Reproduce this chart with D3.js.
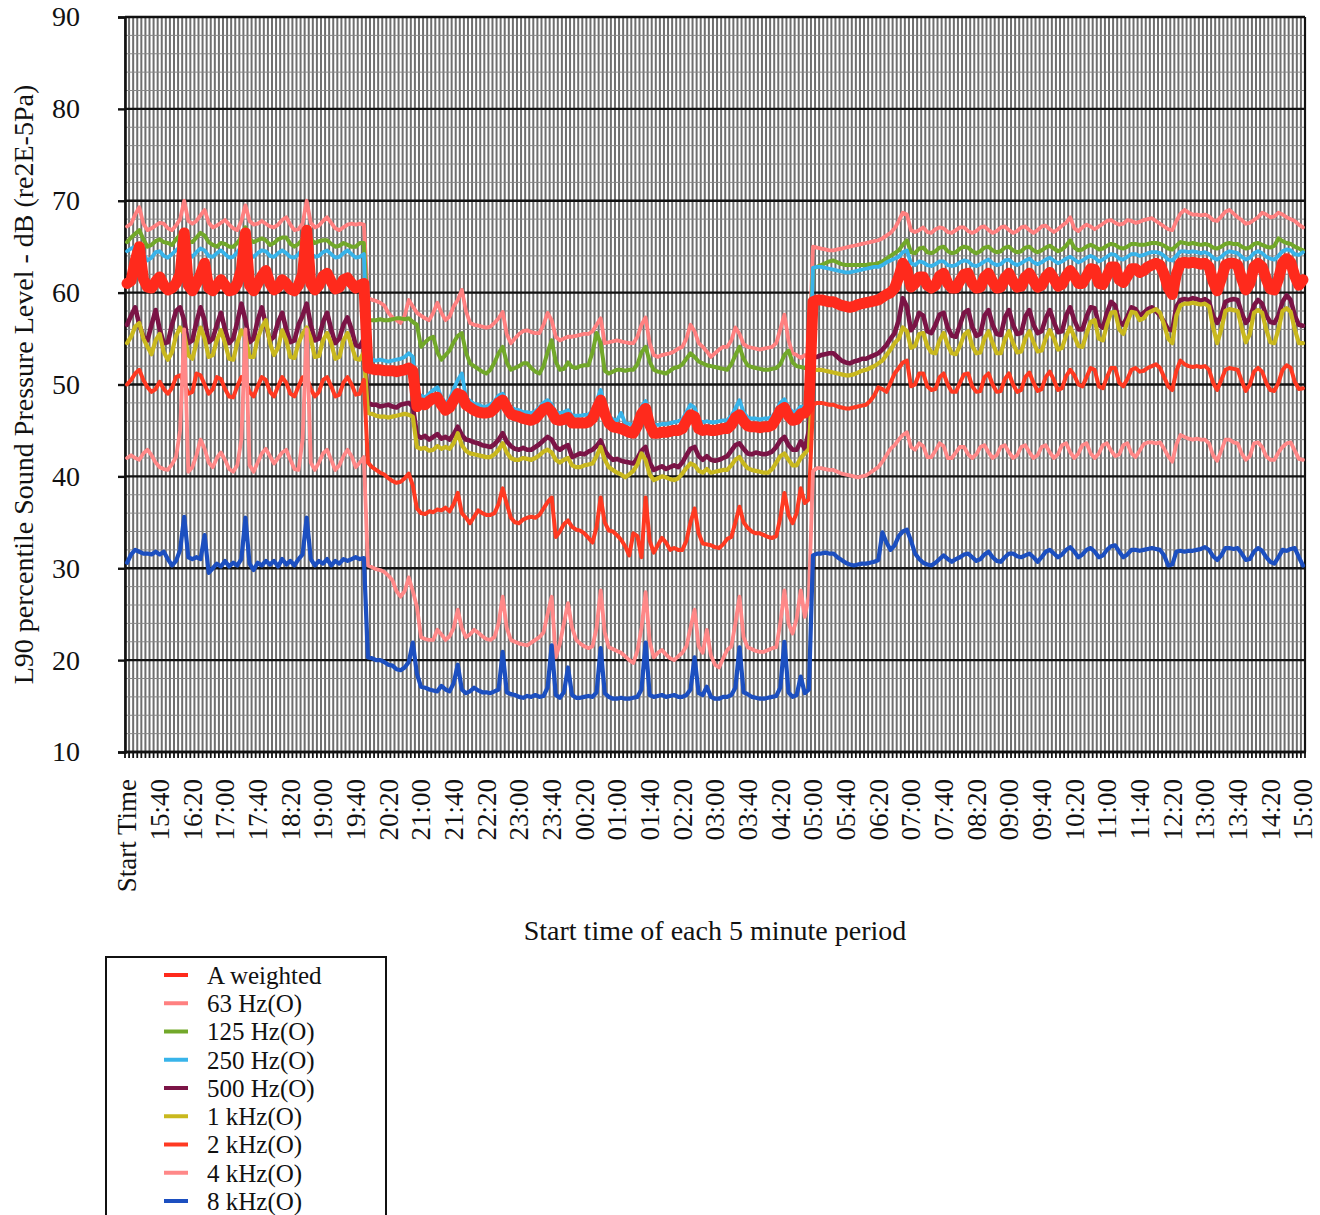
<!DOCTYPE html>
<html><head><meta charset="utf-8">
<script src="https://cdn.jsdelivr.net/npm/d3@7"></script>
<style>html,body{margin:0;padding:0;background:#fff;}svg{display:block;font-family:"Liberation Serif","Times New Roman",serif;}</style>
</head><body>
<svg id="chart" width="1320" height="1215"></svg>
<script>
const tickLabels = ["Start Time","15:40","16:20","17:00","17:40","18:20","19:00","19:40","20:20","21:00","21:40","22:20","23:00","23:40","00:20","01:00","01:40","02:20","03:00","03:40","04:20","05:00","05:40","06:20","07:00","07:40","08:20","09:00","09:40","10:20","11:00","11:40","12:20","13:00","13:40","14:20","15:00"];
const labelEvery = 8;
const yTicks = [10,20,30,40,50,60,70,80,90];
const seriesNames = ["A weighted","63 Hz(O)","125 Hz(O)","250 Hz(O)","500 Hz(O)","1 kHz(O)","2 kHz(O)","4 kHz(O)","8 kHz(O)"];

const aWeighted = [
61,61.3,63.5,65,61.5,60.6,60.5,61.2,61.7,60.8, 60.3,60.5,61,62,66.5,60.8,60.2,61,62,63.2,
60.5,60.2,60.8,61.4,60.8,60.2,60.3,61,62.5,66.5, 60.8,60.2,61,61.8,62.4,61,60.3,60.6,61.4,61,
60.4,60.2,60.8,62,66.8,61,60.3,60.8,61.8,62.1, 61.2,60.4,60.6,61.4,61.6,61,60.5,60.8,61,
51.8,51.7,51.6,51.6,51.5,51.5,51.5,51.4,51.5,51.6,51.8,51.5,
47.6,48,47.8,48.2,48.5,48.6,47.8,47.2,47.5,48.3, 49,48.8,47.8,47.5,47.2,47,46.9,46.9,47,47.4,
48,48.3,47.5,46.8,46.6,46.5,46.3,46.2,46.1,46.3, 46.8,47.3,47.5,47,46.2,46.1,46.2,46.4,45.8,45.8,
45.8,45.8,45.9,46.3,47.3,48.3,46.8,45.8,45.4,45.3, 45.2,45,44.8,44.7,45.5,46.8,47.4,45.6,44.7,44.7,
44.8,44.8,44.9,45,45,45.2,46,46.7,46.5,45.2, 45,45.1,45,45,45.1,45.2,45.2,45.6,46.4,46.7,
46,45.5,45.4,45.4,45.3,45.4,45.4,45.6,46.3,47.2, 47.5,46.6,46.1,46.2,46.8,46.9,47.5,
59,59.2,59.2,59.1,59,59,58.8,58.6,58.5,58.4, 58.5,58.7,58.8,58.9,59,59.1,59.2,59.5,59.8,60, 60.5,61.7,
63.2,62.5,60.6,61,61.7,61.7,60.8,60.5,60.8,61.8, 62.1,61,60.5,60.5,61.3,62,62.1,61,60.5,60.6,
61.7,62.1,61.2,60.5,60.6,61.6,62.1,61.2,60.6,60.7, 61.7,62.1,61.3,60.6,60.8,61.7,62.2,61.5,60.7,60.9,
61.8,62.4,61.8,61,61,61.8,62.6,62.5,61,60.9, 61.8,62.8,62.8,61.4,61.1,61.8,62.6,62.6,62.2,62.4,
62.8,63,63.2,63,62,60.5,59.8,62,63.2,63.3, 63.2,63.3,63.2,63.1,63.2,62.8,61.2,60.2,61.5,63,
63.2,63.2,63,61.5,60.3,61,62.8,63.2,62.8,61.5, 60.4,60.3,61.5,63.2,63.7,63.3,61.8,60.8,61.4];

const hz63 = [
67.2,67.5,68.5,69.3,67.5,66.8,67,67.3,67.6,67.5, 67,66.8,67.3,68,70,67.8,67.5,67.8,68.4,69,
67.6,67.1,67.3,67.6,67.9,67.4,67,66.8,67.8,69.5, 67.8,67.4,67.5,67.8,67.5,67.2,67.1,67.4,67.9,68.2,
67.4,66.8,66.9,67.5,70,67.6,67.1,67.3,67.8,68.2, 67.6,67,66.8,67.1,67.4,67.5,67.4,67.5,67.4,
59.5,59.2,59.1,58.9,58.6,57.8,57.3,57,56.7,57.5,59.2,58.5,
57.8,57.5,57.2,57,57.8,58.9,57.8,57,57.4,58.5, 59.2,60.3,58,56.7,56.5,56.4,56.3,56.2,56.3,56.7,
57.2,57.9,55.5,54.5,55,55.5,55.8,55.9,55.7,55.6, 55.6,56.5,57.8,57,55.2,54.8,55,55.2,55.2,55.3,
55.4,55.5,55.5,55.8,56.5,57.2,54.5,54.6,54.7,54.8, 54.7,54.6,54.5,54.5,55.2,56.5,57.3,54.5,53.2,53,
53.2,53.3,53.4,53.6,53.9,54.1,55,56.5,55.8,54.5, 54.1,53.6,53,53.4,53.8,54.1,54.1,54.8,56.2,55.5,
54.4,54.1,54,53.9,53.8,53.9,54,54.1,54.5,56, 57.6,54.8,53.4,53.2,52.9,53.2,53,
65,64.9,64.8,64.7,64.6,64.6,64.7,64.8,64.9,65, 65.1,65.2,65.3,65.4,65.5,65.6,65.7,65.9,66.2,66.5, 67,67.8,
68.7,68.5,66.8,66.6,66.8,67.1,66.6,66.5,66.9,67.1, 67,66.6,66.5,66.8,67.1,67.1,66.7,66.5,66.7,67.1,
67.2,66.8,66.5,66.7,67.1,67.2,66.8,66.5,66.7,67.1, 67.2,66.8,66.5,66.8,67.2,67.3,66.9,66.6,66.9,67.3,
67.6,68.2,67,66.7,67.1,67.4,67.2,66.9,67.2,67.5, 67.8,67.9,67.6,67.4,67.5,67.9,67.8,67.6,67.7,67.9,
68,68.1,67.8,67.5,67.2,66.9,66.8,67.8,68.6,69, 68.7,68.5,68.5,68.4,68.5,68.3,67.9,67.8,68.3,68.8,
69,68.6,68.2,67.9,67.5,67.6,67.9,68.2,68.7,68.5, 68.2,68.3,68.7,68.5,68.2,68,67.8,67.4,67.1];

const hz125 = [
65.5,66,66.4,66.8,65.8,65,65.2,65.6,65.8,65.5, 65.4,65.2,65.8,66.3,66.8,65.6,65.5,66,66.5,66.2,
65.5,65.2,65,65.4,65.3,65,65,65.4,66,67.1, 65.8,65.5,65.7,65.9,65.7,65.2,65.4,65.8,66,66,
65.3,65,65.3,65.8,67.1,65.8,65.4,65.6,65.7,65.7, 65.3,65,65.1,65.4,65.2,65,65,65.4,65.4,
57,57,57,57.1,57,57,57.1,57.2,57.2,57.1,57.2,56.8,
56.5,54.1,54.6,55,55.2,53.5,52.7,53.2,53.7,54.6, 55.3,55.6,53.5,52.3,52,51.7,51.4,51.2,51.6,52.4,
53.4,54.1,52.4,51.6,51.8,52,52.3,52.3,51.8,51.4, 51.2,52,53.5,54.8,52.5,51.6,51.7,52.4,51.9,51.8,
52,52.1,52.1,53.5,55.6,54.5,51.5,51.2,51.4,51.6, 51.6,51.5,51.6,51.6,52.2,53.5,54.1,52.5,51.6,51.4,
51.3,51.2,51.5,51.8,51.9,52.2,52.8,53.4,53,52.5, 52.3,52.1,52,51.9,51.8,51.7,51.6,52.2,53.2,54.1,
52.8,52.1,51.9,51.8,51.7,51.6,51.6,51.7,51.8,52.2, 53.2,53.7,52.4,52,51.9,51.8,52,
62.6,62.8,63,63.2,63.4,63.5,63.3,63.1,63,63, 63,63,63,63,63.1,63.1,63.2,63.4,63.7,64, 64.3,64.6,
65.2,65.7,64.4,64.3,64.8,64.9,64.4,64.3,64.5,64.9, 65,64.5,64.3,64.4,64.8,65,64.9,64.5,64.3,64.5,
64.9,65,64.6,64.4,64.5,64.9,65,64.6,64.4,64.5, 64.9,65,64.6,64.4,64.6,64.9,65.1,64.8,64.5,64.7,
65.1,65.7,64.9,64.6,64.7,65,65.2,65,64.7,64.8, 65.1,65.3,65.2,64.9,64.8,65,65.3,65.3,65.2,65.2,
65.3,65.4,65.4,65.3,65.1,64.8,64.7,65.1,65.5,65.4, 65.3,65.4,65.3,65.2,65.3,65.2,64.9,64.8,65,65.3,
65.4,65.3,65.3,65,64.8,64.9,65.3,65.4,65.2,65, 64.9,65.1,65.9,65.6,65.4,65.3,65,64.8,64.6];

const hz250 = [
64.5,64.8,65,65.2,64.2,63.5,63.8,64.4,64.5,64, 63.8,64.2,64.6,65,66,64.2,63.9,64.4,64.8,64.6,
64,63.9,64.3,64.6,64.2,63.8,63.9,64.4,65,66, 64.2,63.9,64.3,64.6,64.5,64,63.9,64.3,64.6,64.3,
63.9,63.8,64.2,64.8,66,64.3,63.9,64,64.4,64.6, 64.2,63.8,63.9,64.3,64.6,64.2,63.8,63.9,64.2,
52.8,52.7,52.6,52.7,52.6,52.5,52.6,52.7,52.8,53,53.4,53,
48.5,48.8,48.6,49,49.4,49.7,48.6,48,48.4,49.5, 50.5,51.2,48.6,48.2,47.9,47.8,47.6,47.6,47.8,48.2,
48.8,49,48.2,47.5,47.3,47.2,47,47,46.9,47.1, 47.5,48,48.3,47.8,47,46.9,47,47.2,46.6,46.6,
46.6,46.7,46.7,47.2,48.2,49.4,47.6,46.6,46.2,46.1, 46.9,45.8,45.7,45.6,46.3,47.6,48.2,46.4,45.6,45.6,
45.7,45.7,45.8,45.9,46,46.2,47,47.8,47.5,46.1, 45.9,46,45.9,45.9,46,46.1,46.1,46.6,47.4,48.3,
47,46.4,46.3,46.3,46.2,46.3,46.3,46.5,47.2,48, 48.4,47.5,47,47.1,47.6,47.6,48,
62.7,62.8,62.8,62.7,62.6,62.5,62.4,62.3,62.2,62.2, 62.3,62.4,62.5,62.6,62.7,62.8,62.8,63,63.3,63.5, 63.7,63.9,
64.4,64.6,63.2,63,63.4,63.3,63,62.9,63.1,63.4, 63.4,63,62.9,63,63.3,63.5,63.4,63,62.9,63.1,
63.4,63.6,63.2,63,63.1,63.5,63.6,63.2,63,63.2, 63.5,63.7,63.3,63.1,63.3,63.6,63.8,63.5,63.2,63.4,
63.7,63.9,63.6,63.3,63.5,63.8,64,63.8,63.4,63.6, 63.9,64.2,64.1,63.7,63.6,63.9,64.2,64.2,64,64.1,
64.3,64.4,64.4,64.3,64,63.6,63.5,64,64.5,64.5, 64.4,64.5,64.4,64.3,64.4,64.2,63.8,63.6,63.9,64.3,
64.5,64.4,64.3,63.9,63.6,63.8,64.3,64.5,64.3,63.9, 63.7,63.6,64,64.5,64.7,64.6,64.2,64.1,64.4];

const hz500 = [
56.5,57.5,58.4,56.5,55.2,54.8,56.5,58.1,56,54.5, 54.6,56.5,58,58.4,57,54.5,54.8,56.8,58.4,57,
54.6,55,56.5,57.8,56,54.5,55,56.8,58.8,57, 54.6,55,57,58.4,56.5,54.8,55.2,56.8,57.8,56,
54.6,54.8,56.5,57.5,58.8,56.5,54.8,55,56.8,57.8, 56,54.5,55,56.5,57.3,56,54.3,54.1,55,
48,47.8,47.8,47.6,47.7,47.8,47.6,47.5,47.8,47.9,48,47.6,
44.5,44.2,44.4,44,44.3,44.6,44.1,44.3,44,44.6, 45.4,44.5,44,43.9,43.7,43.6,43.4,43.3,43.2,43.5,
44,44.7,43.8,43.3,43,42.9,43.1,42.9,42.9,43.2, 43.5,43.9,44.3,44,43.2,42.9,43.2,43.4,42.1,42.3,
42.5,42.4,42.7,42.9,43.3,43.9,42.8,42.2,41.8,41.9, 41.7,41.6,41.5,41.4,42,42.8,43.2,41.5,40.7,40.9,
41.1,40.8,41,41.2,41,41.5,42.3,43,43.2,42.2, 41.8,42.2,41.8,41.7,41.8,42,42.2,42.8,43.4,43.6,
43,42.5,42.4,42.6,42.5,42.4,42.5,42.7,43.2,43.9, 44.3,43.4,42.9,42.9,43.8,43,45,
53,53,53.2,53.3,53.4,53.4,53,52.6,52.4,52.3, 52.5,52.6,52.8,52.8,53,53.2,53.4,53.8,54.3,55, 55.6,57,
59.4,58.5,55.9,56.5,57.8,57.5,55.8,55.6,56.5,57.6, 57.8,56.2,55.3,55.2,56.5,57.8,58.1,56.3,55.3,55.5,
57.5,58.1,56.5,55.5,55.4,57.3,58.1,56.5,55.5,55.6, 57.4,58.1,56.5,55.6,55.8,57.2,58.1,56.8,55.7,55.8,
57.5,58.4,57,56,56,57.4,58.4,58.3,56.5,56.2, 57.8,59,58.6,56.8,56.5,57.4,58.4,58.2,57.5,57.8,
58.2,58.4,58,57.5,56.8,56,55.9,58.5,59.2,59.3, 59.2,59.4,59.3,59.1,59.3,59,57.5,56.7,57.5,59,
59.2,59.3,59.2,57.8,56.7,57.2,58.6,59.2,58.8,57.5, 56.8,56.7,57.5,59,59.7,59.2,57.5,56.5,56.4];

const khz1 = [
54.5,55.2,56.3,56.7,55,54.1,53.3,54.8,55.5,53.5, 52.7,53.5,55.3,56.2,55.5,53.2,52.8,54.5,56.2,55,
53,53.2,54.8,55.9,54.5,52.8,52.7,54.5,55.9,55.2, 53,53,55,56.2,57,54.5,53.2,54,55.9,54.8,
53,52.9,54.5,55.5,56.2,55,53,53.1,54.8,55.6, 54.5,52.8,53,54.8,55.6,54.2,52.8,52.7,53.5,
46.9,46.8,46.6,46.5,46.5,46.4,46.5,46.6,46.7,46.8,46.7,46.5,
43.2,43,43.1,42.8,42.9,43.3,43,43.2,43,43.6, 44.7,43.4,42.8,42.5,42.4,42.3,42.2,42.1,42.1,42.4,
42.9,43.6,42.6,42,41.8,41.8,42,41.9,41.8,42, 42.3,42.7,42.9,42.6,41.8,41.5,41.8,42,41.2,41,
41,41.2,41.3,41.4,42.2,43.2,41.8,41,40.7,40.4, 40.2,39.9,40.2,40.6,41.3,42.5,41.8,40.2,39.6,39.8,
40,39.9,39.7,39.6,39.8,40.3,40.9,41.4,41.2,40.6, 40.4,40.8,40.4,40.5,40.6,40.7,40.7,41.2,41.8,42.1,
41.4,40.9,40.7,40.6,40.5,40.4,40.4,40.8,41.5,42.2, 42.5,41.8,41.2,41.2,42,42.5,43,
51.5,51.6,51.6,51.5,51.4,51.3,51.2,51.1,51,51, 51.1,51.3,51.5,51.6,51.8,52,52.3,52.6,53.2,53.8, 54.5,55,
56.2,55.8,54,54.2,55.5,55.6,54.2,53.5,53.4,54.8, 55.6,54.3,53.4,53.3,54.2,55.4,55.8,54.2,53.4,53.5,
55,55.8,54.5,53.4,53.4,54.9,55.8,54.5,53.5,53.6, 55,55.8,54.6,53.6,53.7,55,55.9,55,53.8,54,
55.3,56.2,55.2,54.2,54.1,55.5,56.8,57,55,54.8, 56.5,57.8,57.9,56,55.5,56.8,57.9,57.8,57,57.2,
57.8,58,58.2,57.8,56.5,55,54.5,57.5,58.6,58.8, 58.8,58.9,58.8,58.7,58.8,58.5,56.2,54.5,56,58,
58.2,58.1,58,56.2,54.6,55.5,57.8,58.1,57.8,56, 54.6,54.5,56,58,58.3,57.9,56,54.5,54.5];

const khz2 = [
50,50.5,51.2,51.6,50.5,49.7,49.2,49.5,50.3,49.5, 49,49.6,50.8,51,50.2,49,49.2,51.2,51,50,
49,49.5,50.8,50.6,49.5,48.7,48.6,49.8,50.8,50.5, 49.2,48.7,49.8,50.8,50.5,49.2,48.7,49.8,50.8,50.2,
49,48.7,49.8,50.8,50.8,49.5,48.7,49.2,50.5,50.8, 49.8,48.7,48.9,50.2,50.8,50,48.9,49,50.5,
41.5,41,40.7,40.4,40.2,39.8,39.5,39.3,39.4,39.8,40.3,39,
36.5,36,35.9,36.2,36.1,36.4,36.3,36.6,36.2,37, 38.2,36,35.5,34.9,35.6,36.3,36,35.8,35.8,36,
37,38.7,37,35.5,35,34.9,35.3,35.5,35.6,35.5, 35.8,36.5,37.2,37.7,33.4,34,34.8,35.2,34.5,34.2,
34.1,33.8,33.3,32.8,34.5,37.7,35,34.1,34,33.6, 33.1,32.4,31.4,33.8,33.5,31.2,37.7,33,31.7,32.5,
33.3,32.8,32,32.2,32,32,33,35,36.5,33.8, 32.7,32.6,32.5,32.3,32.2,32.6,33.2,33.4,35,36.7,
35,34.4,34,33.8,33.8,33.6,33.4,33.3,33.5,35.5, 38.2,35.8,34.9,36,38.7,37.1,37.5,
47.8,48,48,47.9,47.8,47.8,47.6,47.5,47.4,47.4, 47.5,47.6,47.7,47.8,48.2,48.8,49.7,49.5,49.2,50.2, 51.2,51.8,
52.4,52.6,49.8,50,51.2,51.2,49.8,49.4,49.5,50.8, 51.2,50,49.2,49.2,50.2,51.1,51.2,49.8,49.2,49.3,
50.8,51.2,50,49.2,49.3,50.6,51.2,50,49.2,49.4, 50.8,51.3,50.2,49.3,49.5,50.8,51.4,50.5,49.4,49.6,
50.9,51.6,51,50,49.8,50.8,51.8,51.6,49.8,49.6, 50.8,51.8,51.8,50.2,49.8,50.6,51.6,51.8,51.4,51.5,
51.8,52,52.2,51.8,50.8,49.8,49.4,51.5,52.6,52.2, 52,51.9,52,51.9,52,51.6,50.2,49.4,50.5,51.6,
51.8,51.7,51.6,50.4,49.3,50,51.4,51.8,51.4,50.2, 49.4,49.3,50.2,51.6,52.1,51.8,50.3,49.5,49.6];

const khz4 = [
42,42.3,42,41.8,42.5,42.9,42.3,41.5,41,40.8, 40.7,41.3,42.1,45,56,40.5,41,42.3,44,43,
41.5,41,42,42.6,41.8,40.8,40.5,41.2,44,56, 41.2,40.5,41.5,42.5,43,42.2,41.4,42,42.6,42.9,
41.8,40.8,40.7,44,56,41.5,40.7,41.5,42.5,42.9, 41.8,40.7,41.2,42.2,42.9,42.2,41,41.5,42.1,
30.3,30.1,29.9,29.8,29.6,29.2,28.7,27.5,26.9,27.5,29,27.5,
25.8,22.5,22.3,22.2,22.2,23.3,22.8,22.2,22.6,23.5, 25.5,23.5,22.5,22.8,23.3,23,22.6,22.3,22.2,22.5,
24,26.9,23.5,22.2,22,21.8,21.7,21.6,21.9,22.2, 22.5,23,25,26.9,20.3,21.8,24,26.2,23.5,22.2,
21.8,21.5,21.3,21.5,23.5,27.6,23,21.4,21.2,21, 20.8,20.4,20,19.7,21,23.5,27.4,22,20.3,20.8,
21.1,20.6,20.2,20,20.4,20.8,21.5,23.5,25.5,21.5, 20.8,23.3,20.5,19.5,19.2,20.2,21.1,21.5,24,26.9,
22.5,21.4,21.2,21,20.9,20.9,21.1,21.3,21.4,24, 27.6,24,22.9,24.5,27.6,24.7,27,
40.6,40.9,40.9,40.8,40.7,40.7,40.5,40.3,40.2,40.1, 40,39.9,40,40.1,40.4,40.7,41,41.6,42.3,43, 43.4,44,
44.5,44.8,43.2,42.9,43.6,43.3,42.1,42.1,42.8,43.6, 43.3,42,42,42.6,43.2,43.2,42.4,42,42.4,43.2,
43.4,42.6,42,42.3,43.2,43.4,42.6,42,42.3,43.2, 43.4,42.6,42,42.3,43.2,43.4,42.6,42,42.4,43.4,
43.6,42.6,42,42.5,43.4,43.6,42.5,42,42.5,43.4, 43.6,42.8,42.2,42.4,43.4,43.6,42.5,42.1,42.8,43.5,
43.7,43.7,43.6,43.7,43,42.2,41.6,43.5,44.5,44.3, 44.1,44,44.1,44,44,43.6,42.3,41.7,42.8,44,
44,43.7,43.6,42.5,41.8,42.2,43.6,43.7,43.2,42.2, 41.8,41.8,42.6,43.2,43.6,43.7,42.8,41.9,41.8];

const khz8 = [
30.6,31.5,32,31.8,31.6,31.6,31.5,31.8,31.5,31.8, 31,30.3,30.8,32,35.6,31.2,31,31.2,31,33.6,
29.5,30,30.5,30.2,30.8,30.2,30.6,30.3,31,35.5, 30.5,29.8,30.6,30.3,30.8,30.4,30.8,30.2,31,30.4,
30.8,30.3,31,31.5,35.5,31,30.3,30.8,30.5,31, 30.3,30.8,30.5,31,30.8,31,31.2,31,31.1,
20.3,20.2,20,20,19.8,19.5,19.4,19,18.9,19.2,19.8,21.9,
18.5,17.1,17,16.8,16.7,16.6,17.2,16.8,16.6,17.5, 19.5,16.8,16.4,16.6,17,16.7,16.5,16.5,16.4,16.6,
16.8,20.9,16.5,16.3,16.2,16,15.9,16.1,16,16.2, 16,16.1,17,21.6,16.2,15.9,16.5,19.2,16.2,15.9,
15.9,16,16.1,16,16.5,21.3,16.4,16,15.8,15.8, 15.9,15.8,15.8,15.9,16,16.8,21.9,16.2,16,16.1,
16.2,16,16.1,16.2,16,16,16.2,16.8,20.3,16.4, 16.2,17.1,16,15.8,15.8,16,16,16.2,17,21.4,
16.5,16.3,16,15.9,15.8,15.8,15.9,16,16.1,17, 22,16.5,16,16.2,18.2,16.4,16.8,
31.4,31.6,31.6,31.7,31.6,31.6,31.2,30.9,30.6,30.4, 30.3,30.4,30.5,30.5,30.6,30.7,30.9,33.9,32.8,32, 32.5,33.5,
34,34.2,33,31.6,31,30.6,30.4,30.3,30.6,31, 31.4,31,30.7,31,31.2,31.5,31.6,31.2,30.8,31,
31.5,31.8,31.2,30.8,30.7,31.2,31.6,31.6,31.3,31.2, 31.4,31.6,31.2,30.7,31.2,31.8,32,31.6,31.2,31.5,
32,32.3,31.8,31.2,31.5,32,32.2,31.8,31.2,31.4, 32,32.4,32.5,31.8,31.2,31.5,32,32,31.9,32,
32.1,32.2,32.1,32,31.4,30.3,30.4,31.8,31.9,31.8, 31.9,31.9,32,32.1,32.3,32,31.3,30.9,31.4,32.2,
32.2,32.1,32.2,31.6,30.9,31,31.8,32.2,31.9,31.2, 30.7,30.5,31.2,32,31.9,32.1,32.2,31.2,30.3];

const seriesValues = [aWeighted, hz63, hz125, hz250, hz500, khz1, khz2, khz4, khz8];
const seriesColors = ["#ff2a1c","#ff8080","#72a82a","#38b4ea","#7b1446","#c9b81e","#ff3a22","#ff8888","#1c4fc0"];
const seriesWidths = [11, 3.8, 4, 3.8, 4.6, 4.2, 4, 3.8, 4.2];

const svg = d3.select("#chart");
const L = 125, R = 1305, T = 17, B = 752;
const n = aWeighted.length;
const x = d3.scaleBand().domain(d3.range(n)).range([L, R]);
const cx = i => x(i) + x.bandwidth() / 2;
const y = d3.scaleLinear().domain([10, 90]).range([B, T]);

svg.append("rect").attr("x", L).attr("y", T).attr("width", R - L).attr("height", B - T).attr("fill", "#fff");

// vertical gridlines at category boundaries
const bounds = d3.range(n + 1).map(k => L + k * x.step());
svg.append("g").selectAll("line").data(bounds).join("line")
  .attr("x1", d => d).attr("x2", d => d).attr("y1", T).attr("y2", B)
  .attr("stroke", "#6e6e6e").attr("stroke-width", 2);

// minor horizontal gridlines
const minor = d3.range(12, 90, 2).filter(v => v % 10 !== 0);
svg.append("g").selectAll("line").data(minor).join("line")
  .attr("x1", L).attr("x2", R).attr("y1", d => y(d)).attr("y2", d => y(d))
  .attr("stroke", "#888").attr("stroke-width", 1);

// major horizontal gridlines
svg.append("g").selectAll("line").data(yTicks).join("line")
  .attr("x1", L).attr("x2", R).attr("y1", d => y(d)).attr("y2", d => y(d))
  .attr("stroke", "#111").attr("stroke-width", 2.4);

// right border
svg.append("line").attr("x1", R).attr("x2", R).attr("y1", T).attr("y2", B).attr("stroke", "#111").attr("stroke-width", 2.2);

// Y axis
const yAxis = d3.axisLeft(y).tickValues(yTicks).tickSize(7).tickPadding(38).tickFormat(d3.format("d"));
const gy = svg.append("g").attr("transform", `translate(${L},0)`).call(yAxis);
gy.select(".domain").attr("stroke", "#111").attr("stroke-width", 2.6);
gy.selectAll(".tick line").attr("stroke", "#111").attr("stroke-width", 2.4);
gy.selectAll(".tick text").attr("font-size", 28).attr("fill", "#111")
  .attr("font-family", '"Liberation Serif","Times New Roman",serif');

// X axis: dense category ticks
svg.append("g").selectAll("line").data(bounds).join("line")
  .attr("x1", d => d).attr("x2", d => d).attr("y1", B).attr("y2", B + 6)
  .attr("stroke", "#111").attr("stroke-width", 1.8);
svg.append("line").attr("x1", L - 1).attr("x2", R + 1).attr("y1", B).attr("y2", B).attr("stroke", "#111").attr("stroke-width", 2.6);

// X tick labels every 8 categories
svg.append("g").selectAll("text").data(tickLabels).join("text")
  .attr("transform", (d, k) => `translate(${cx(k * labelEvery)},779) rotate(-90)`)
  .attr("text-anchor", "end").attr("dy", "0.35em")
  .attr("font-size", 27).attr("fill", "#111").text(d => d);

// series lines
const line = d3.line().x((d, i) => cx(i)).y(d => y(d)).curve(d3.curveLinear);
const order = [1, 2, 3, 4, 5, 6, 7, 8, 0];
order.forEach(s => {
  svg.append("path").datum(seriesValues[s])
    .attr("d", line).attr("fill", "none")
    .attr("stroke", seriesColors[s]).attr("stroke-width", seriesWidths[s])
    .attr("stroke-linejoin", "round").attr("stroke-linecap", "round");
});

// titles
svg.append("text").attr("x", (L + R) / 2).attr("y", 940).attr("text-anchor", "middle")
  .attr("font-size", 28).attr("fill", "#111").text("Start time of each 5 minute period");
svg.append("text").attr("transform", `translate(23,${(T + B) / 2}) rotate(-90)`)
  .attr("text-anchor", "middle").attr("dy", "0.35em")
  .attr("font-size", 28).attr("fill", "#111").text("L90 percentile Sound Pressure Level - dB (re2E-5Pa)");

// legend
const lg = svg.append("g");
lg.append("rect").attr("x", 106).attr("y", 957).attr("width", 280).attr("height", 300)
  .attr("fill", "#fff").attr("stroke", "#111").attr("stroke-width", 2);
const legY = d3.scaleLinear().domain([0, 8]).range([975, 1201]);
seriesNames.forEach((name, k) => {
  lg.append("line").attr("x1", 164).attr("x2", 188).attr("y1", legY(k)).attr("y2", legY(k))
    .attr("stroke", seriesColors[k]).attr("stroke-width", 4);
  lg.append("text").attr("x", 207).attr("y", legY(k)).attr("dy", "0.35em")
    .attr("font-size", 25).attr("fill", "#111").text(name);
});
</script>
</body></html>
